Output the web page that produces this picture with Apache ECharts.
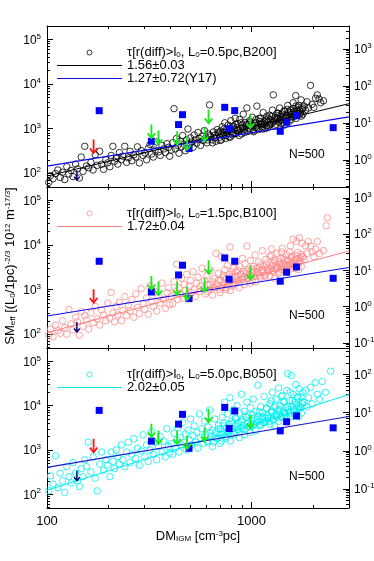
<!DOCTYPE html>
<html>
<head>
<meta charset="utf-8">
<script src="https://cdn.jsdelivr.net/npm/echarts@6.0.0/dist/echarts.min.js"></script>
<style>
  html, body { margin: 0; padding: 0; background: #fff; }
  #chart { width: 374px; height: 561px; }
</style>
</head>
<body>
<div id="chart"></div>
<script>
// ---- data ----
// scatter clouds [DM_IGM, SM_eff], one per panel
const cloudB200 = [
  [102,62],[104,88],[107,75],[110,98],[113,118],[116,80],[119,105],[122,72],[125,140],[128,96],[131,115],[134,84],[138,160],[141,125],[144,78],[147,230],[150,110],[153,400],[156,145],[160,132],[164,175],[168,118],[172,260],[176,150],[181,310],[185,158],[189,122],[194,200],[198,170],
  [203,140],[206,250],[210,400],[214,185],[218,215],[222,160],[226,290],[231,200],[235,240],[240,400],[245,175],[250,220],[255,310],[260,190],[266,260],[272,230],[277,390],[283,170],[289,320],[295,250],[301,285],[307,200],[313,360],[319,440],[325,270],[331,230],[338,330],[344,500],[351,300],[358,250],[365,420],[372,350],[379,290],[386,460],[393,380],[398,240],
  [405,330],[412,480],[418,2800],[424,350],[430,600],[436,420],[442,280],[449,520],[455,390],[461,700],[468,450],[475,320],[482,560],[489,980],[496,430],[503,620],[510,500],[518,380],[525,720],[532,560],[540,470],[548,820],[556,600],[564,420],[572,680],[580,540],[589,900],[597,620],[606,480],[615,760],[624,3400],[633,650],[642,560],[651,840],[660,700],[670,520],[680,950],[690,760],[700,640],
  [706,880],[713,560],[720,1100],[727,700],[734,820],[741,1350],[748,600],[755,960],[762,780],[770,1200],[777,650],[785,1000],[793,1500],[801,850],[809,720],[817,1150],[825,940],[833,1700],[841,780],[850,1050],[858,1300],[867,880],[876,1600],[885,1000],[894,760],[903,1200],[912,2100],[921,950],[930,1380],[940,1100],[950,2900],[959,860],[969,1250],[979,1500],[989,1000],[1000,1150],[1010,1800],[1020,900],[1031,1300],[1042,1050],[1053,1600],[1063,3200],[1074,1200],[1085,950],[1096,1450],[1108,1700],[1119,1100],[1131,1350],[1142,2300],[1154,1250],[1166,1000],[1178,1550],[1190,1900],
  [1202,1400],[1215,1150],[1228,2000],[1240,1600],[1253,1300],[1266,2600],[1279,5700],[1292,1500],[1305,1800],[1318,1250],[1332,2200],[1345,1650],[1359,1400],[1373,2900],[1387,1900],[1401,1550],[1415,2100],[1430,1350],[1444,2500],[1459,1750],[1474,2000],[1489,1500],[1504,3300],[1519,2300],[1535,1800],[1550,2600],[1566,1600],[1582,2100],[1598,3800],[1614,2400],[1630,1900],[1647,5500],[1663,2700],[1680,2200],[1697,3000],[1714,2000],[1732,2500],[1749,4400],[1767,2700],[1785,2100],
  [1810,3200],[1840,2600],[1870,4000],[1900,2900],[1945,9300],[1980,3500],[2020,3000],[2060,4800],[2100,5700],[2140,4600],[2180,3800],[2250,4200],
  [610,560],[628,700],[645,480],[662,620],[688,820],[702,540],[718,760],[735,980],[752,700],[768,880],[788,640],[804,1100],[822,780],[838,1250],[855,900],[872,700],[890,1350],[908,1050],[925,820],[945,1250],[965,980],[985,1400],[1005,1200],[1025,850],[1048,1350],[1068,1050],[1090,1700],[1112,1250],[1135,980],[1158,1450],[1182,1150],[1206,1700],[1230,1250],[1255,1850],[1280,1400],[1305,1150],[1330,1750],[1355,2200],[1380,1600],[1405,1300],[1430,1900],[1455,2400],[1480,1700],[1505,2000],[1530,1450],[1555,2300],[1580,1850],[1605,2800],[1630,2100],[1655,1700],[1680,2500],[1705,3300],[1730,2200],[1755,1900],[1780,2900],[1200,1050],[1350,1950],[1500,2700],[1650,3200],[1450,1200]
];
const cloudB100 = [
  [102,95],[104,130],[107,88],[110,160],[113,120],[116,105],[119,200],[122,140],[125,100],[128,360],[131,170],[134,125],[138,240],[141,190],[144,95],[147,320],[150,150],[153,260],[156,210],[160,130],[164,300],[168,180],[172,420],[176,220],[181,160],[185,350],[189,270],[194,200],[198,500],
  [203,230],[206,860],[210,300],[214,190],[218,420],[222,270],[226,520],[231,200],[235,340],[240,700],[245,260],[250,450],[255,330],[260,600],[266,240],[272,800],[277,400],[283,290],[289,1050],[295,480],[301,360],[307,650],[313,280],[319,1200],[325,550],[331,420],[338,900],[344,330],[351,700],[358,500],[365,1400],[372,600],[379,380],[386,850],[393,1100],[398,460],
  [405,700],[412,480],[418,1500],[424,900],[430,3700],[436,600],[442,1100],[449,800],[455,1800],[461,650],[468,1300],[475,950],[482,2200],[489,700],[496,1200],[503,1600],[510,850],[518,2500],[525,1000],[532,700],[540,1400],[548,1900],[556,900],[564,1200],[572,3000],[580,1050],[589,1600],[597,800],[606,2100],[615,1300],[624,1000],[633,2700],[642,1500],[651,1100],[660,1800],[670,6500],[680,1300],[690,2300],[700,1000],
  [706,1600],[713,5500],[720,1100],[727,2100],[734,1400],[741,2800],[748,1000],[755,1800],[762,3500],[770,1300],[777,2200],[785,9000],[793,1600],[801,2500],[809,1200],[817,3000],[825,1900],[833,1400],[841,4200],[850,2000],[858,2700],[867,1500],[876,3300],[885,2200],[894,1700],[903,5000],[912,2500],[921,1900],[930,3800],[940,2300],[950,9500],[959,1800],[969,2900],[979,2100],[989,4500],[1000,2400],[1010,1600],[1020,3300],[1031,2600],[1042,6000],[1053,2000],[1063,3000],[1074,2500],[1085,4200],[1096,2100],[1108,3600],[1119,2800],[1131,7500],[1142,2400],[1154,3300],[1166,2000],[1178,4800],[1190,2900],
  [1202,3200],[1215,2600],[1228,5500],[1240,3000],[1253,8200],[1266,2700],[1279,3800],[1292,4600],[1305,2900],[1318,3500],[1332,6500],[1345,3100],[1359,4200],[1373,2500],[1387,5000],[1401,3400],[1415,8500],[1430,3900],[1444,3000],[1459,4700],[1474,3600],[1489,6000],[1504,3200],[1519,4300],[1535,7000],[1550,3700],[1566,5200],[1582,4100],[1598,13500],[1614,4600],[1630,3500],[1647,5800],[1663,12000],[1680,4800],[1697,4000],[1714,14500],[1732,5000],[1749,6200],[1767,11000],[1785,5400],
  [1810,4800],[1840,9600],[1870,6500],[1900,12000],[1945,9500],[1980,7000],[2020,5500],[2060,8000],[2100,12000],[2150,6500],[2250,7500],[2320,27000],[2350,41000],
  [610,900],[628,1300],[645,750],[662,1100],[688,1600],[702,850],[718,1250],[735,1900],[752,1100],[768,1500],[788,950],[804,2000],[822,1300],[838,2500],[855,1600],[872,1100],[890,2200],[908,1700],[925,1300],[945,2600],[965,1800],[985,1400],[1005,2900],[1025,2000],[1048,1500],[1068,2400],[1090,3200],[1112,1900],[1135,2700],[1158,2100],[1182,3800],[1206,2600],[1230,2000],[1255,3400],[1280,2500],[1305,4200],[1330,3000],[1355,2300],[1380,3700],[1405,2800],[1430,5200],[1455,3300],[1480,2600],[1505,4500],[1530,3500],[1555,2900],[1580,5600],[1605,3800],[1630,3000],[1655,4800],[1680,6800],[1705,3900],[1730,4400],[1755,3300],[1780,5500],[1250,5800],[1400,7000],[1550,9500],[1300,1800],[1700,2800]
];
const cloudB050 = [
  [102,120],[104,260],[107,170],[110,740],[113,140],[116,300],[119,200],[122,110],[125,420],[128,250],[131,180],[134,520],[138,300],[141,200],[144,150],[147,380],[150,250],[153,600],[156,420],[159,1500],[164,320],[168,700],[172,230],[176,119],[181,480],[185,900],[189,350],[194,600],[198,450],
  [203,250],[206,900],[210,550],[214,380],[218,1000],[222,700],[226,480],[231,1300],[235,600],[240,420],[245,900],[250,1500],[255,520],[260,800],[266,1800],[272,650],[277,1100],[283,450],[289,950],[295,2200],[301,700],[307,1300],[313,550],[319,1000],[325,2600],[331,800],[338,1500],[344,600],[351,1200],[358,2000],[365,900],[372,1600],[379,700],[386,3000],[393,1200],[398,850],
  [405,1400],[412,800],[418,2400],[424,1100],[430,1700],[436,3200],[442,900],[449,1900],[455,1300],[461,4200],[468,1500],[475,2300],[482,1000],[489,2800],[496,1700],[503,5000],[510,1300],[518,2100],[525,3500],[532,1500],[540,2500],[548,1100],[556,6500],[564,1900],[572,3000],[580,1400],[589,4500],[597,2200],[606,1600],[615,3300],[624,8000],[633,2000],[642,2800],[651,1500],[660,5000],[670,2500],[680,1800],[690,3600],[700,2300],
  [706,3000],[713,1600],[720,5500],[727,2400],[734,4000],[741,12000],[748,2000],[755,3200],[762,6500],[770,2500],[777,3800],[785,15000],[793,2200],[801,4500],[809,3000],[817,8000],[825,2600],[833,5200],[841,3400],[850,10000],[858,2800],[867,4200],[876,6800],[885,3100],[894,18000],[903,4800],[912,3600],[921,7500],[930,2900],[940,5500],[950,12000],[959,3900],[969,6200],[979,3300],[989,9000],[1000,4600],[1010,3500],[1020,14000],[1031,5200],[1042,3900],[1053,7500],[1063,4300],[1074,29000],[1085,5800],[1096,3700],[1108,9500],[1119,5000],[1131,6800],[1142,4200],[1154,16000],[1166,5500],[1178,4500],[1190,8500],
  [1202,6000],[1215,4400],[1228,11000],[1240,5200],[1253,7500],[1266,20000],[1279,4800],[1292,9000],[1305,6200],[1318,14000],[1332,5500],[1345,8000],[1359,25000],[1373,6600],[1387,10000],[1401,5400],[1415,17000],[1430,7200],[1444,12000],[1459,6000],[1474,9000],[1489,22000],[1504,53000],[1519,8200],[1535,13000],[1550,6800],[1566,48000],[1582,9500],[1598,18000],[1614,7500],[1630,12000],[1647,30000],[1663,8500],[1680,15000],[1697,10000],[1714,24000],[1732,9000],[1749,16000],[1767,11000],[1785,20000],
  [1810,12000],[1840,22000],[1870,9500],[1900,15000],[1945,26000],[1980,11000],[2050,33000],[2100,18000],[2150,14000],[2220,35000],[2300,20000],[2440,60000],
  [610,1500],[628,2400],[645,1200],[662,1900],[688,3000],[702,1400],[718,2200],[735,3500],[752,1800],[768,2700],[788,1600],[804,4000],[822,2300],[838,5000],[855,2900],[872,1900],[890,4400],[908,3100],[925,2200],[945,5600],[965,3400],[985,2500],[1005,6300],[1025,3800],[1048,2700],[1068,4900],[1090,7200],[1112,3600],[1135,5600],[1158,4100],[1182,8800],[1206,5200],[1230,3800],[1255,7000],[1280,5000],[1305,9800],[1330,6200],[1355,4400],[1380,8000],[1405,5700],[1430,12500],[1455,6800],[1480,5000],[1505,9500],[1530,7200],[1555,5600],[1580,13000],[1605,8000],[1630,6000],[1655,10500],[1680,16000],[1705,8200],[1730,9500],[1755,6800],[1780,12000],[1250,13000],[1400,16000],[1550,20000],[1300,3500],[1700,5600]
];

// observed FRBs (blue squares)
const frbDm = [180, 324, 440, 460, 495, 740, 778, 828, 1383, 1486, 1660, 2510];
const frbSmB200 = [2520, 520, 1230, 2050, 357, 3000, 1000, 2530, 870, 1385, 1950, 1050];
const frbSmB100 = [4320, 884, 2130, 3520, 628, 5130, 1710, 4330, 1540, 2450, 3220, 1790];
const frbSmB050 = [7810, 1580, 3830, 6350, 1090, 9130, 3050, 7570, 2700, 4330, 5860, 3160];

// upper limits (arrows)
const redDm = [169];
const redSm = [568, 1015, 1780];          // B200, B100, B050
const navyDm = [140];
const navySm = [117, 187, 340];
const greenDm = [324, 351, 433, 484, 590, 617, 989];
const greenSmB200 = [1230, 902, 870, 672, 1050, 2660, 2060];
const greenSmB100 = [2020, 1510, 1510, 1170, 1800, 4560, 3400];
const greenSmB050 = [3900, 2750, 2750, 2110, 3160, 8550, 6240];

// fitted lines, end points at DM = 100 and 3000
const fitDm = [100, 3000];
const fitB200 = [86, 3620];
const fitB100 = [108, 7360];
const fitB050 = [123, 17800];
const y17B200 = [144, 1830];
const y17B100 = [255, 3120];
const y17B050 = [404, 5710];

// axes
const xRange = [100, 3000];
const xMajor = [100, 1000];
const leftRange = [49, 200000];
const leftMajor = [100, 1000, 10000, 100000];
const rightRanges = [[0.186, 4170], [0.0724, 2000], [0.0316, 500]];
const rightMajors = [[1, 10, 100, 1000], [0.1, 1, 10, 100, 1000], [0.1, 1, 10, 100]];

const FONT = '"Liberation Sans", Arial, sans-serif';
const BLUE = '#0c0cf0';
const panels = [
  { top: 26, height: 161, cloud: cloudB200, frb: frbSmB200, green: greenSmB200, fit: fitB200, y17: y17B200,
    color: '#000000', fitColor: '#000000', blue: BLUE, label: 'τ[r(diff)>l{sub|0}, L{sub|0}=0.5pc,B200]', fitLabel: '1.56±0.03' },
  { top: 187, height: 161, cloud: cloudB100, frb: frbSmB100, green: greenSmB100, fit: fitB100, y17: y17B100,
    color: '#ff8c8c', fitColor: '#ff8080', blue: BLUE, label: 'τ[r(diff)>l{sub|0}, L{sub|0}=1.5pc,B100]', fitLabel: '1.72±0.04' },
  { top: 348, height: 160, cloud: cloudB050, frb: frbSmB050, green: greenSmB050, fit: fitB050, y17: y17B050,
    color: '#00f0f0', fitColor: '#00e8f0', blue: '#1c1cc8', label: 'τ[r(diff)>l{sub|0}, L{sub|0}=5.0pc,B050]', fitLabel: '2.02±0.05' }
];

// minor log ticks 2..9 x 10^n inside a range
function minorTicks(lo, hi) {
  const out = [];
  for (let e = -3; e <= 6; e++) {
    for (let k = 2; k <= 9; k++) {
      const v = +(k * Math.pow(10, e)).toPrecision(3);
      if (v >= lo && v <= hi) out.push(v);
    }
  }
  return out;
}
function pow10Label(v) {
  return '{b|10}{s|' + Math.round(Math.log10(v)) + '}';
}
const supRich = {
  b: { fontSize: 12, fontFamily: FONT, color: '#000', lineHeight: 14, verticalAlign: 'bottom' },
  s: { fontSize: 8, fontFamily: FONT, color: '#000', lineHeight: 8, verticalAlign: 'top', padding: [0, 0, 6, 0] }
};
const subRich = {
  sub: { fontSize: 8, fontFamily: FONT, color: '#000', lineHeight: 8, verticalAlign: 'bottom', padding: [6, 0, 0, 0] },
  sup: { fontSize: 8, fontFamily: FONT, color: '#000', lineHeight: 8, verticalAlign: 'top', padding: [0, 0, 6, 0] }
};
const legendRich = {
  sub: { fontSize: 8, fontFamily: FONT, color: '#000', lineHeight: 8, verticalAlign: 'bottom', padding: [4, 0, 0, 0] }
};

// one visible axis with long ticks + one bare axis carrying the minor ticks
function axisPair(g, pos, range, major, minor, labels, labelExtra) {
  const base = { type: 'log', gridIndex: g, position: pos, min: range[0], max: range[1],
    splitLine: { show: false }, minorTick: { show: false }, silent: true };
  return [
    Object.assign({}, base, {
      axisLine: { show: true, onZero: false, lineStyle: { color: '#000', width: 1 } },
      axisTick: { show: true, inside: true, length: 6, customValues: major, lineStyle: { color: '#000', width: 1 } },
      axisLabel: labels ? Object.assign({ show: true, customValues: labels }, labelExtra) : { show: false }
    }),
    Object.assign({}, base, {
      axisLine: { show: false, onZero: false },
      axisTick: { show: true, inside: true, length: 3, customValues: minor, lineStyle: { color: '#000', width: 1 } },
      axisLabel: { show: false }
    })
  ];
}

const grids = [], xAxes = [], yAxes = [], series = [], legends = [], graphics = [];
const arrowPath = 'path://M3,0 L5,0 L5,11.5 L7.2,8.6 L8.8,9.8 L4,15.8 L-0.8,9.8 L0.8,8.6 L3,11.5 Z';
const lineIcon = 'path://M0,0 L65,0 L65,1 L0,1 Z';

panels.forEach(function (p, i) {
  const last = i === panels.length - 1;
  grids.push({ left: 47, right: 25, top: p.top, height: p.height, outerBoundsMode: 'none' });

  const xb = axisPair(i, 'bottom', xRange, xMajor, minorTicks(xRange[0], xRange[1]),
    last ? xMajor : null,
    { margin: 7, fontSize: 13, fontFamily: FONT, color: '#000', formatter: function (v) { return String(v); } });
  if (last) {
    Object.assign(xb[0], {
      name: 'DM{sub|IGM} [cm{sup|-3}pc]', nameLocation: 'middle', nameGap: 21,
      nameTextStyle: { fontSize: 13, fontFamily: FONT, color: '#000', rich: subRich }
    });
  }
  const xt = axisPair(i, 'top', xRange, xMajor, minorTicks(xRange[0], xRange[1]), null);
  xAxes.push.apply(xAxes, xb.concat(xt));

  const yl = axisPair(i, 'left', leftRange, leftMajor, minorTicks(leftRange[0], leftRange[1]),
    leftMajor, { margin: 6, formatter: pow10Label, rich: supRich });
  const rr = rightRanges[i];
  const yr = axisPair(i, 'right', rr, rightMajors[i], minorTicks(rr[0], rr[1]),
    rightMajors[i], { margin: 5, formatter: pow10Label, rich: supRich });
  yAxes.push.apply(yAxes, yl.concat(yr));

  const ax = { xAxisIndex: 4 * i, yAxisIndex: 4 * i };
  const pts = 'pts' + i, fit = 'fit' + i, y17 = 'y17_' + i;

  series.push(Object.assign({
    name: pts, type: 'scatter', symbol: 'circle', symbolSize: 6.5, z: 2,
    itemStyle: { color: 'rgba(0,0,0,0)', borderColor: p.color, borderWidth: 0.8, opacity: 1 },
    data: p.cloud
  }, ax));
  series.push(Object.assign({
    name: fit, type: 'line', symbol: 'none', z: 3,
    itemStyle: { color: p.fitColor }, lineStyle: { color: p.fitColor, width: 1 },
    data: fitDm.map(function (d, k) { return [d, p.fit[k]]; })
  }, ax));
  series.push(Object.assign({
    name: y17, type: 'line', symbol: 'none', z: 3,
    itemStyle: { color: p.blue }, lineStyle: { color: p.blue, width: 1.1 },
    data: fitDm.map(function (d, k) { return [d, p.y17[k]]; })
  }, ax));
  series.push(Object.assign({
    name: 'frb' + i, type: 'scatter', symbol: 'rect', symbolSize: 7, z: 4,
    itemStyle: { color: '#0000ff', opacity: 1 },
    data: frbDm.map(function (d, k) { return [d, p.frb[k]]; })
  }, ax));
  series.push(Object.assign({
    name: 'green' + i, type: 'scatter', symbol: arrowPath, symbolSize: [9, 15], symbolOffset: [0, '50%'],
    symbolKeepAspect: false, z: 5, itemStyle: { color: '#1ee81e', opacity: 1 },
    data: greenDm.map(function (d, k) { return [d, p.green[k]]; })
  }, ax));
  series.push(Object.assign({
    name: 'red' + i, type: 'scatter', symbol: arrowPath, symbolSize: [9, 15], symbolOffset: [0, '50%'],
    symbolKeepAspect: false, z: 5, itemStyle: { color: '#ff1a1a', opacity: 1 },
    data: redDm.map(function (d) { return [d, redSm[i]]; })
  }, ax));
  series.push(Object.assign({
    name: 'navy' + i, type: 'scatter', symbol: arrowPath, symbolSize: [7, 11], symbolOffset: [0, '50%'],
    symbolKeepAspect: false, z: 5, itemStyle: { color: '#000070', opacity: 1 },
    data: navyDm.map(function (d) { return [d, navySm[i]]; })
  }, ax));

  const names = {};
  names[pts] = p.label;
  names[fit] = p.fitLabel;
  names[y17] = '1.27±0.72(Y17)';
  const items = [
    { name: pts, icon: 'circle', itemStyle: { color: 'rgba(0,0,0,0)', borderColor: p.color, borderWidth: 0.8 } },
    { name: fit, icon: lineIcon, itemStyle: { color: p.fitColor, borderWidth: 0 } }
  ];
  if (i === 0) items.push({ name: y17, icon: lineIcon, itemStyle: { color: BLUE, borderWidth: 0 } });
  legends.push({
    orient: 'vertical', left: 52, top: p.top + 15, itemWidth: 65, itemHeight: 5, itemGap: 0,
    selectedMode: false, data: items,
    formatter: function (n) { return names[n]; },
    textStyle: { fontSize: 13, fontFamily: FONT, color: '#000', lineHeight: 12, rich: legendRich }
  });

  graphics.push({
    type: 'text', x: 289, y: p.top + 129, silent: true,
    style: { text: 'N=500', fontSize: 12, fontFamily: FONT, fill: '#000', verticalAlign: 'middle' }
  });
});

graphics.push({
  type: 'text', x: 10, y: 266, rotation: Math.PI / 2, silent: true,
  style: {
    text: 'SM{sub|eff} [(L{sub|0}/1pc){sup|-2/3} 10{sup|12} m{sup|-17/3}]',
    fontSize: 13, fontFamily: FONT, fill: '#000', align: 'center', verticalAlign: 'middle', rich: subRich
  }
});

const chart = echarts.init(document.getElementById('chart'), null, { renderer: 'canvas' });
chart.setOption({
  animation: false,
  backgroundColor: '#fff',
  grid: grids,
  xAxis: xAxes,
  yAxis: yAxes,
  legend: legends,
  graphic: graphics,
  series: series
});
</script>
</body>
</html>
